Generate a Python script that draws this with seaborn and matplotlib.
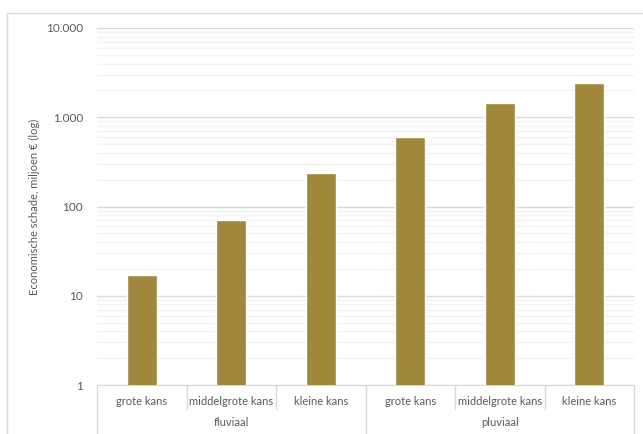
import matplotlib
matplotlib.use("Agg")
import matplotlib.pyplot as plt
import matplotlib.ticker as mticker
from matplotlib.patches import Rectangle
from matplotlib.lines import Line2D
import pandas as pd
import seaborn as sb

# data
groups = ["fluviaal", "fluviaal", "fluviaal", "pluviaal", "pluviaal", "pluviaal"]
kansen = ["grote kans", "middelgrote kans", "kleine kans",
          "grote kans", "middelgrote kans", "kleine kans"]
schade = [17, 70, 240, 600, 1450, 2420]

barColor = "#A0873C"
gridMajor = "#d9d9d9"
gridMinor = "#f2f2f2"
textColor = "#595959"

df = pd.DataFrame({"groep": groups, "kans": kansen, "schade": schade})
df["key"] = df["groep"] + "|" + df["kans"]

sb.set_style("white")
plt.rcParams["font.family"] = ["Lato", "DejaVu Sans"]

fig = plt.figure(figsize=(6.43, 4.34), dpi=100)
ax = fig.add_axes([97 / 643, 49 / 434, 537 / 643, 357 / 434])

sb.barplot(data=df, x="key", y="schade", order=list(df["key"]), color=barColor,
           saturation=1, width=0.33, ax=ax, zorder=3)

ax.set_yscale("log")
ax.set_ylim(1, 10000)
ax.set_xlim(-0.5, len(df) - 0.5)
ax.yaxis.set_major_locator(mticker.FixedLocator([1, 10, 100, 1000, 10000]))
ax.yaxis.set_major_formatter(mticker.FuncFormatter(lambda v, p: format(int(v), ",").replace(",", ".")))
ax.yaxis.set_minor_locator(mticker.LogLocator(base=10, subs=range(2, 10)))
ax.yaxis.set_minor_formatter(mticker.NullFormatter())
ax.grid(axis="y", which="major", color=gridMajor, linewidth=1, zorder=0)
ax.grid(axis="y", which="minor", color=gridMinor, linewidth=1, zorder=0)
ax.tick_params(axis="y", which="both", length=0, labelsize=8.5, labelcolor=textColor, pad=10)
ax.tick_params(axis="x", length=0, labelbottom=False)
for side in ["top", "right", "left"]:
  ax.spines[side].set_visible(False)
ax.spines["bottom"].set_color(gridMajor)
ax.set_xlabel("")
ax.set_ylabel("Economische schade, miljoen € (log)", fontsize=8, color=textColor, labelpad=4)

# grouped category axis
trans = ax.get_xaxis_transform()
for i, kans in enumerate(kansen):
  ax.text(i, -0.046, kans, transform=trans, ha="center", va="center",
          fontsize=8, color=textColor, clip_on=False)
for i in range(len(kansen) + 1):
  x = i - 0.5
  full = i in (0, 3, 6)
  y0 = -0.2 if full else -0.067
  ax.add_line(Line2D([x, x], [0, y0], transform=trans, color=gridMajor,
                     linewidth=1, clip_on=False))
ax.text(1, -0.106, "fluviaal", transform=trans, ha="center", va="center",
        fontsize=8, color=textColor, clip_on=False)
ax.text(4, -0.106, "pluviaal", transform=trans, ha="center", va="center",
        fontsize=8, color=textColor, clip_on=False)

# outer chart border
fig.patches.append(Rectangle((7 / 643, -0.1), 1.2, 1.1 - 13 / 434, transform=fig.transFigure,
                             fill=False, edgecolor=gridMajor, linewidth=1))

fig.savefig("out.png", dpi=100)
